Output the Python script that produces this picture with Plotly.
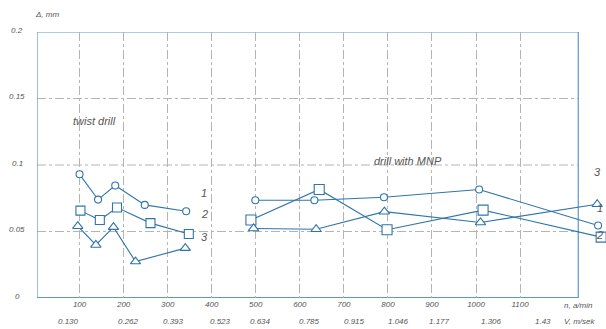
import plotly.graph_objects as go

# ---------------- data ----------------
n_ticks = [100, 200, 300, 400, 500, 600, 700, 800, 900, 1000, 1100]
n_labels = ["100", "200", "300", "400", "500", "600", "700", "800", "900", "1000", "1100"]
v_labels = ["0.130", "0.262", "0.393", "0.523", "0.634", "0.785", "0.915", "1.046", "1.177", "1.306", "1.43"]
v_label_pos = [74, 210, 314, 419, 510, 621, 723, 823, 918, 1036, 1152]
y_ticks = [0, 0.05, 0.1, 0.15, 0.2]
y_labels = ["0", "0.05", "0.1", "0.15", "0.2"]

# twist drill
tw1_n = [100, 142, 181, 248, 342]
tw1_d = [0.093, 0.074, 0.0846, 0.070, 0.0652]
tw2_n = [102, 146, 185, 261, 348]
tw2_d = [0.0657, 0.0586, 0.068, 0.0563, 0.0481]
tw3_n = [96, 137, 177, 227, 340]
tw3_d = [0.054, 0.0399, 0.0533, 0.0274, 0.0375]

# drill with MNP
mn1_n = [499, 633, 791, 1007, 1277]
mn1_d = [0.0735, 0.0735, 0.0758, 0.0816, 0.0545]
mn2_n = [489, 644, 798, 1016, 1284]
mn2_d = [0.0586, 0.0816, 0.0513, 0.0661, 0.0458]
mn3_n = [495, 637, 792, 1010, 1275]
mn3_d = [0.0523, 0.0517, 0.0649, 0.0568, 0.0705]

# ---------------- style ----------------
LINE = "#2f74ab"
FRAME = "#5b97c9"
GRID = "#b4b4b4"
TXT = "#555555"
FONT = "Liberation Sans"
X_MIN, X_MAX, X_FRAME = 3.4, 1295, 1232

fig = go.Figure()

def add(nx, dy, sym, size):
    fig.add_trace(go.Scatter(
        x=nx, y=dy, mode="lines+markers",
        line=dict(color=LINE, width=1.1),
        marker=dict(symbol=sym, size=size, color="white",
                    line=dict(color=LINE, width=1.1)),
        cliponaxis=False, showlegend=False, hoverinfo="skip"))

add(tw1_n, tw1_d, "circle", 7)
add(tw2_n, tw2_d, "square", 9)
add(tw3_n, tw3_d, "triangle-up", 9)
add(mn1_n, mn1_d, "circle", 7)
add(mn2_n, mn2_d, "square", 10)
add(mn3_n, mn3_d, "triangle-up", 9)

shapes = []
for v in y_ticks[1:-1]:
    shapes.append(dict(type="line", xref="x", yref="y", x0=X_MIN, x1=X_FRAME, y0=v, y1=v,
                       line=dict(color=GRID, width=1, dash="dashdot"), layer="below"))
shapes.append(dict(type="rect", xref="x", yref="y", x0=X_MIN, x1=X_FRAME, y0=0, y1=0.2,
                   line=dict(color=FRAME, width=1.2), layer="below"))
shapes.append(dict(type="line", xref="x", yref="y", x0=X_MIN, x1=X_FRAME, y0=0, y1=0,
                   line=dict(color=FRAME, width=2), layer="below"))

f8 = dict(family=FONT, size=8, color=TXT, style="italic")
f10 = dict(family=FONT, size=11, color=TXT, style="italic")
anns = []
for p, t in zip(v_label_pos, v_labels):
    anns.append(dict(x=p, y=-0.09, xref="x", yref="paper", text=t, showarrow=False,
                     font=f8, xanchor="center", yanchor="middle"))
for v, t in zip(y_ticks, y_labels):
    anns.append(dict(x=0, y=v, xref="paper", yref="y", text=t, showarrow=False,
                     font=f8, xanchor="center", yanchor="middle", xshift=-20, yshift=2))

anns.append(dict(x=0, y=1, xref="paper", yref="paper", text="Δ, mm", showarrow=False,
                 font=f8, xanchor="left", yanchor="bottom", xshift=-4, yshift=11))
anns.append(dict(x=1232, y=-0.03, xref="x", yref="paper", text="n, a/min", showarrow=False,
                 font=f8, xanchor="center", yanchor="middle"))
anns.append(dict(x=1235, y=-0.09, xref="x", yref="paper", text="V, m/sek", showarrow=False,
                 font=f8, xanchor="center", yanchor="middle"))
anns.append(dict(x=80, y=0.133, xref="x", yref="y", text="twist drill", showarrow=False,
                 font=f10, xanchor="left", yanchor="middle"))
anns.append(dict(x=763, y=0.103, xref="x", yref="y", text="drill with MNP", showarrow=False,
                 font=f10, xanchor="left", yanchor="middle"))
for t, yv in [("1", 0.079), ("2", 0.063), ("3", 0.046)]:
    anns.append(dict(x=383, y=yv, xref="x", yref="y", text=t, showarrow=False,
                     font=f10, xanchor="center", yanchor="middle"))
anns.append(dict(x=1275, y=0.0947, xref="x", yref="y", text="3", showarrow=False,
                 font=f10, xanchor="center", yanchor="middle"))
for t, yv in [("1", 0.068), ("2", 0.0475)]:
    anns.append(dict(x=1, y=yv, xref="paper", yref="y", text=t, showarrow=False,
                     font=f10, xanchor="right", yanchor="middle", xshift=-1))

fig.update_layout(
    width=606, height=329,
    margin=dict(l=37, r=0, t=32, b=31),
    paper_bgcolor="white", plot_bgcolor="white",
    shapes=shapes, annotations=anns,
    xaxis=dict(range=[X_MIN, X_MAX], tickvals=n_ticks, ticktext=n_labels,
               showgrid=True, gridcolor=GRID, griddash="dashdot", gridwidth=1,
               zeroline=False, showline=False, ticks="",
               tickfont=f8, fixedrange=True),
    yaxis=dict(range=[0, 0.2], showgrid=False, zeroline=False, showline=False,
               showticklabels=False, ticks="", fixedrange=True),
)

fig.write_html("out.html")
